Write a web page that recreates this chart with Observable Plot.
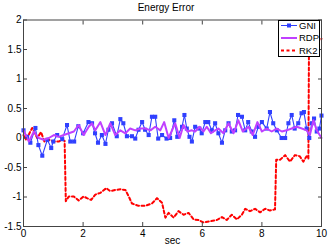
<!DOCTYPE html>
<html>
<head>
<meta charset="utf-8">
<script src="https://cdn.jsdelivr.net/npm/d3@7"></script>
<script src="https://cdn.jsdelivr.net/npm/@observablehq/plot@0.6"></script>
<style>
  body { margin: 0; background: #fff; font-family: "Liberation Sans", Arial, sans-serif; }
  #wrap { position: relative; width: 332px; height: 252px; }
  #title { height: 14px; line-height: 14px; font-size: 10px; text-align: center; padding-top: 1px; box-sizing: border-box; color: #000; }
  #legend { position: absolute; left: 278px; top: 20px; line-height: 0; }
</style>
</head>
<body>
<div id="wrap">
  <div id="title">Energy Error</div>
  <div id="chart"></div>
  <div id="legend"></div>
</div>
<script>
const xTicks = [0, 2, 4, 6, 8, 10];
const yTicks = [-1.5, -1, -0.5, 0, 0.5, 1, 1.5, 2];
const seriesNames = ["GNI", "RDP", "RK2"];
const seriesColors = ["#3040ff", "#c040ff", "#ff0000"];

const gniT = [0.00,0.12,0.23,0.40,0.50,0.63,0.80,0.93,1.00,1.13,1.30,1.46,1.57,1.70,1.84,2.00,2.18,2.30,2.40,2.50,2.63,2.75,2.85,2.97,3.13,3.25,3.35,3.47,3.64,3.75,3.86,3.98,4.08,4.20,4.31,4.42,4.52,4.65,4.80,4.92,5.06,5.16,5.32,5.40,5.48,5.57,5.65,5.76,5.90,5.98,6.10,6.20,6.32,6.43,6.54,6.66,6.77,6.88,6.99,7.10,7.20,7.33,7.44,7.54,7.66,7.77,7.88,8.00,8.16,8.27,8.38,8.50,8.66,8.78,8.89,9.00,9.10,9.22,9.33,9.41,9.50,9.59,9.67,9.75,9.84,9.93,10.00];
const gniV = [0.13,0.02,-0.08,0.17,-0.12,-0.30,-0.03,-0.17,-0.06,0.05,-0.02,0.22,-0.06,-0.06,0.20,0.08,0.27,0.25,0.08,-0.08,0.05,-0.10,0.14,0.25,0.03,0.32,0.25,0.03,0.03,-0.01,0.14,0.27,0.14,0.05,0.36,0.36,-0.01,0.05,-0.01,0.00,0.30,0.02,0.19,0.39,0.16,0.02,-0.06,0.19,0.16,0.08,0.27,0.27,0.13,0.25,0.08,-0.08,0.13,0.25,0.11,0.13,0.39,0.36,0.13,0.27,0.11,0.02,0.19,0.27,0.16,0.44,0.25,0.13,0.00,0.00,0.25,0.39,0.16,0.25,0.42,0.44,0.16,0.00,0.25,0.33,0.11,0.16,0.38];

const rdpT = [0.00,0.18,0.35,0.51,0.68,0.85,1.02,1.18,1.35,1.52,1.69,1.85,2.02,2.19,2.30,2.41,2.58,2.75,2.91,3.08,3.25,3.42,3.58,3.75,3.92,4.09,4.26,4.42,4.59,4.72,4.87,5.09,5.24,5.37,5.50,5.65,5.76,5.91,6.04,6.15,6.29,6.43,6.54,6.71,6.88,7.05,7.21,7.36,7.55,7.69,7.85,8.00,8.16,8.33,8.50,8.67,8.83,9.00,9.17,9.34,9.50,9.61,9.73,9.84,10.00];
const rdpV = [0.13,-0.06,0.11,0.00,-0.03,0.00,0.05,0.02,0.05,0.08,0.11,0.22,0.05,0.19,0.25,0.13,0.27,0.05,0.25,0.05,0.13,0.08,0.16,0.13,0.16,0.16,0.13,0.19,0.13,0.27,0.00,0.25,0.00,0.22,0.11,0.13,0.11,0.19,0.11,0.19,0.08,0.13,0.16,0.08,0.25,0.08,0.30,0.11,0.19,0.05,0.27,0.11,0.16,0.11,0.16,0.11,0.13,0.16,0.19,0.16,0.13,0.05,0.30,0.13,0.00];

const rk2T = [0.00,0.07,0.18,0.29,0.46,0.59,0.70,0.85,1.02,1.18,1.29,1.38,1.42,1.52,1.69,1.85,2.02,2.13,2.27,2.41,2.58,2.78,2.91,3.08,3.25,3.42,3.53,3.64,3.86,4.09,4.31,4.48,4.65,4.76,4.87,5.04,5.20,5.37,5.54,5.71,5.87,6.04,6.26,6.49,6.66,6.82,6.99,7.16,7.33,7.44,7.60,7.77,7.94,8.11,8.27,8.44,8.48,8.61,8.78,8.94,9.11,9.27,9.39,9.50,9.56,9.58,9.80,10.00];
const rk2V = [0.05,-0.03,0.06,0.17,0.00,0.10,-0.06,-0.03,-0.06,-0.06,-0.03,-0.05,-1.07,-0.99,-0.99,-1.06,-0.99,-1.02,-1.05,-0.96,-0.93,-0.85,-0.90,-0.88,-0.87,-0.88,-0.99,-1.11,-1.15,-1.15,-1.11,-1.02,-1.10,-1.35,-1.27,-1.35,-1.24,-1.30,-1.27,-1.38,-1.39,-1.43,-1.41,-1.39,-1.34,-1.39,-1.30,-1.38,-1.30,-1.20,-1.24,-1.20,-1.26,-1.20,-1.23,-1.21,-0.37,-0.37,-0.29,-0.40,-0.29,-0.31,-0.40,-0.31,-0.35,1.55,1.62,1.68];

const gni = gniT.map((t, i) => ({t, v: gniV[i]}));
const rdp = rdpT.map((t, i) => ({t, v: rdpV[i]}));
const rk2 = rk2T.map((t, i) => ({t, v: rk2V[i]}));

const axisColor = "#444";
const fmt = d => String(d);
const chart = Plot.plot({
  width: 332,
  height: 238,
  marginLeft: 23,
  marginRight: 11,
  marginTop: 5.5,
  marginBottom: 26,
  style: {fontFamily: "'Liberation Sans', Arial, sans-serif", fontSize: "10px", color: "#000", background: "#fff"},
  x: {domain: [0, 10]},
  y: {domain: [-1.5, 2]},
  marks: [
    Plot.line(rk2, {x: "t", y: "v", stroke: seriesColors[2], strokeWidth: 2, strokeDasharray: "3,2.5"}),
    Plot.line(gni, {x: "t", y: "v", stroke: seriesColors[0], strokeWidth: 1.1}),
    Plot.dot(gni, {x: "t", y: "v", symbol: "square", r: 2.3, fill: seriesColors[0], stroke: "none"}),
    Plot.line(rdp, {x: "t", y: "v", stroke: seriesColors[1], strokeWidth: 2}),
    Plot.frame({stroke: axisColor, strokeWidth: 1}),
    Plot.axisX(xTicks, {anchor: "bottom", tickSize: -4, tickPadding: 7, tickFormat: fmt, label: null, stroke: axisColor, fill: "#000"}),
    Plot.axisX(xTicks, {anchor: "top", tickSize: -4, text: null, label: null, stroke: axisColor}),
    Plot.axisY(yTicks, {anchor: "left", tickSize: -4, tickPadding: 6, tickFormat: fmt, label: null, stroke: axisColor, fill: "#000"}),
    Plot.axisY(yTicks, {anchor: "right", tickSize: -4, text: null, label: null, stroke: axisColor}),
    Plot.text(["sec"], {frameAnchor: "bottom", dy: 17, fill: "#000"})
  ]
});
document.getElementById("chart").appendChild(chart);

// legend (drawn as a small svg box)
const rowsY = [5.5, 18, 30.5];
let inner = `<rect x="0.5" y="0.5" width="41" height="36" fill="#fff" stroke="#000" stroke-width="1"/>`;
seriesNames.forEach((name, i) => {
  const y = rowsY[i];
  inner += `<line x1="3" x2="19" y1="${y}" y2="${y}" stroke="${seriesColors[i]}" stroke-width="${i === 0 ? 1 : 2}"${i === 2 ? ' stroke-dasharray="3,2.5"' : ''}/>`;
  if (i === 0) inner += `<rect x="9" y="${y - 2}" width="4" height="4" fill="${seriesColors[0]}"/>`;
  inner += `<text x="21" y="${y}" dy="0.35em" font-size="9.5" font-family="Liberation Sans, Arial, sans-serif" fill="#000">${name}</text>`;
});
document.getElementById("legend").innerHTML = `<svg width="43" height="38" style="display:block">${inner}</svg>`;
</script>
</body>
</html>
